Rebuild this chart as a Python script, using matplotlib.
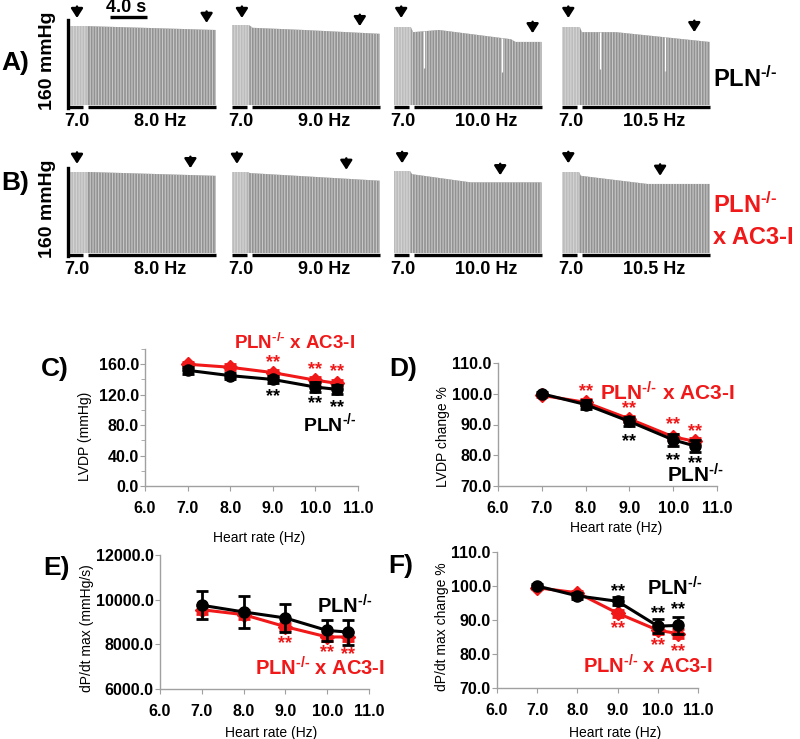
import numpy as np
import matplotlib
matplotlib.use('Agg')
import matplotlib.pyplot as plt
from matplotlib.ticker import MultipleLocator, FormatStrFormatter

plt.rcParams['font.family'] = ['Liberation Sans', 'DejaVu Sans']
plt.rcParams['font.weight'] = 'bold'
plt.rcParams['mathtext.fontset'] = 'custom'
plt.rcParams['mathtext.rm'] = 'Liberation Sans:bold'
plt.rcParams['mathtext.bf'] = 'Liberation Sans:bold'
plt.rcParams['mathtext.default'] = 'rm'
plt.rcParams['hatch.linewidth'] = 0.8

# ---- pressure traces (A = PLN-/-, B = PLN-/- x AC3-I), time in s, top of trace in mmHg
paceLabels = ['8.0 Hz', '9.0 Hz', '10.0 Hz', '10.5 Hz']
aTime = [[0, 2.2, 2.3, 16.4], [0, 1.9, 2.3, 8.0, 16.4],
         [0, 1.9, 2.1, 5.0, 13.0, 13.5, 16.4], [0, 2.0, 2.2, 6.0, 16.4]]
aTop = [[145, 145, 145, 138], [147, 147, 142, 138, 131],
        [143, 143, 134, 138, 121, 116, 116], [143, 143, 134, 134, 116]]
bTime = [[0, 2.2, 2.3, 16.4], [0, 1.7, 2.0, 16.4],
         [0, 1.8, 2.0, 8.5, 16.4], [0, 1.9, 2.1, 9.5, 16.4]]
bTop = [[149, 149, 149, 142], [149, 149, 147, 133],
        [151, 151, 145, 130, 130], [149, 149, 142, 127, 127]]
aArrowT = [[1.0, 15.4], [1.1, 14.2], [0.8, 15.4], [0.7, 14.7]]
aArrowY = [[160, 151], [160, 145], [160, 132], [160, 134]]
bArrowT = [[1.0, 13.6], [0.55, 12.7], [0.9, 11.8], [0.7, 10.9]]
bArrowY = [[164, 156], [164, 153], [165, 143], [165, 142]]
aGaps = [[], [], [3.3, 12.0], [4.2, 11.4]]
bGaps = [[], [], [], []]

# ---- summary data
heartRate = [7.0, 8.0, 9.0, 10.0, 10.5]
lvdpPln = [152, 145, 140, 130, 127]
lvdpPlnErr = [5, 4, 5, 6, 6]
lvdpAc3 = [160, 156, 149, 139, 135]
lvdpAc3Err = [3, 4, 4, 4, 4]
lvdpPctPln = [100.0, 96.5, 91.0, 85.0, 83.0]
lvdpPctPlnErr = [0.5, 1.5, 1.5, 2.0, 2.0]
lvdpPctAc3 = [99.5, 97.2, 91.8, 86.0, 84.5]
lvdpPctAc3Err = [0.5, 1.0, 1.0, 1.0, 1.0]
dpdtPln = [9750, 9450, 9180, 8620, 8550]
dpdtPlnErr = [620, 730, 620, 490, 560]
dpdtAc3 = [9550, 9330, 8790, 8330, 8330]
dpdtAc3Err = [200, 200, 150, 200, 200]
dpdtPctPln = [100.0, 97.1, 95.5, 88.2, 88.4]
dpdtPctPlnErr = [0.5, 0.8, 1.2, 2.0, 2.6]
dpdtPctAc3 = [99.5, 98.0, 92.0, 87.0, 86.0]
dpdtPctAc3Err = [0.5, 0.5, 1.0, 1.2, 1.3]

W, H = 800, 739
RED = '#f01818'
GREY = '#a0a0a0'
SEC_PER_PX = 4.0 / 36
MMHG_PER_PX = 160 / 87
TRACE_W = 148
traceLeft = [68, 232, 394, 562]
KO = r'PLN$^{\text{-/-}}$'


def box(l, t, r, b):
    return [l / W, 1 - b / H, (r - l) / W, (b - t) / H]


def figText(x, y, s, **kw):
    fig.text(x / W, 1 - y / H, s, **kw)


fig = plt.figure(figsize=(8, 7.39), dpi=100)

rows = [(105, aTime, aTop, aArrowT, aArrowY, aGaps), (253, bTime, bTop, bArrowT, bArrowY, bGaps)]
for baseY, times, tops, arrT, arrY, gaps in rows:
    for i in range(4):
        left = traceLeft[i]
        ax = fig.add_axes(box(left, baseY - 100, left + TRACE_W, baseY))
        ax.set_xlim(0, TRACE_W * SEC_PER_PX)
        ax.set_ylim(0, 100 * MMHG_PER_PX)
        ax.axis('off')
        t, v = times[i], tops[i]
        ax.fill_between(t[:2], 0, v[:2], facecolor='#bcbcbc', edgecolor='#d4d4d4',
                        hatch='||||||', linewidth=0)
        ax.fill_between(t[1:], 0, v[1:], facecolor='#929292', edgecolor='#c8c8c8',
                        hatch='||||||', linewidth=0)
        for g in gaps[i]:
            top = np.interp(g, t, v)
            ax.vlines(g, 0.5 * top, top, color='white', lw=0.9)
        for at, ay in zip(arrT[i], arrY[i]):
            ax.annotate('', xy=(at, ay), xytext=(at, ay + 21),
                        arrowprops=dict(arrowstyle='-|>,head_length=0.5,head_width=0.32',
                                        color='black', lw=1.8, shrinkA=0, shrinkB=0,
                                        mutation_scale=11),
                        annotation_clip=False)
        ax.plot([0, 1.7], [-4, -4], color='black', lw=2.4, solid_capstyle='butt', clip_on=False)
        ax.plot([2.2, TRACE_W * SEC_PER_PX], [-4, -4], color='black', lw=2.4,
                solid_capstyle='butt', clip_on=False)
        ax.text(1.0, -31, '7.0', fontsize=13, ha='center', va='center')
        ax.text(10.2, -31, paceLabels[i], fontsize=13, ha='center', va='center')
        if i == 0:
            ax.plot([0, 0], [-5, 156], color='black', lw=2.4, clip_on=False)
            figText(48, baseY - 44, '160 mmHg', fontsize=14, rotation=90, ha='center', va='center')
            if baseY == 105:
                ax.plot([4.65, 8.75], [162, 162], color='black', lw=2.4,
                        solid_capstyle='butt', clip_on=False)
                figText(126, 8, '4.0 s', fontsize=13, ha='center', va='center')

figText(15, 63, 'A)', fontsize=19, ha='center', va='center')
figText(15, 183, 'B)', fontsize=19, ha='center', va='center')
figText(713, 79, KO, fontsize=17, ha='left', va='center')
figText(713, 205, KO, fontsize=17, ha='left', va='center', color=RED)
figText(713, 237, 'x AC3-I', fontsize=17, ha='left', va='center', color=RED)


def panel(rect, ylim, major, minor, ylabel, ylabPos, xlabPos):
    ax = fig.add_axes(box(*rect))
    ax.set_xlim(6, 11)
    ax.set_ylim(*ylim)
    ax.xaxis.set_major_locator(MultipleLocator(1))
    ax.xaxis.set_major_formatter(FormatStrFormatter('%.1f'))
    ax.yaxis.set_major_locator(MultipleLocator(major))
    ax.yaxis.set_major_formatter(FormatStrFormatter('%.1f'))
    if minor:
        ax.yaxis.set_minor_locator(MultipleLocator(minor))
    for s in ['top', 'right']:
        ax.spines[s].set_visible(False)
    for s in ['left', 'bottom']:
        ax.spines[s].set_color(GREY)
        ax.spines[s].set_linewidth(1)
    ax.tick_params(which='both', direction='out', color=GREY, labelsize=11.5)
    ax.tick_params(which='major', length=3.5)
    ax.tick_params(which='minor', length=3)
    ax.tick_params(axis='x', pad=7)
    ax.tick_params(axis='y', pad=1)
    ax.set_ylabel(ylabel, fontsize=10)
    ax.yaxis.set_label_coords(*ylabPos)
    ax.set_xlabel('Heart rate (Hz)', fontsize=10)
    ax.xaxis.set_label_coords(*xlabPos)
    return ax


def series(ax, y, e, color, marker, ms, z):
    ax.errorbar(heartRate, y, yerr=e, color=color, marker=marker, ms=ms, lw=2.2,
                elinewidth=2, capsize=4.5, capthick=2, zorder=z, clip_on=False)


def stars(ax, xs, ys, color):
    for x, y in zip(xs, ys):
        ax.text(x, y, '**', color=color, fontsize=13, ha='center', va='center')


# C
axC = panel((145, 349, 358, 486), (0, 180), 40, 20, 'LVDP (mmHg)', (-0.248, 0.365), (0.535, -0.33))
series(axC, lvdpAc3, lvdpAc3Err, RED, 'D', 7, 3)
series(axC, lvdpPln, lvdpPlnErr, 'black', 'o', 8, 4)
stars(axC, [9.0, 10.0, 10.5], [162, 153, 150], RED)
stars(axC, [9.0, 10.0, 10.5], [118, 108, 103], 'black')
axC.text(9.7, 83, KO, fontsize=14, ha='left', va='center')
axC.text(8.1, 188, KO + ' x AC3-I', fontsize=13.5, ha='left', va='center', color=RED)

# D
axD = panel((498, 363, 717, 486), (70, 110), 10, None, 'LVDP change %', (-0.218, 0.40), (0.539, -0.283))
series(axD, lvdpPctAc3, lvdpPctAc3Err, RED, 'D', 7, 3)
series(axD, lvdpPctPln, lvdpPctPlnErr, 'black', 'o', 8, 4)
stars(axD, [8.0, 9.0, 10.0, 10.5], [100.8, 95.3, 90.1, 87.8], RED)
stars(axD, [9.0, 10.0, 10.5], [84.6, 78.1, 77.4], 'black')
axD.text(9.86, 73.6, KO, fontsize=15, ha='left', va='center')
axD.text(8.33, 100.2, KO + ' x AC3-I', fontsize=15, ha='left', va='center', color=RED)

# E
axE = panel((160, 555, 369, 689), (6000, 12000), 2000, None, 'dP/dt max (mmHg/s)', (-0.315, 0.455), (0.531, -0.275))
series(axE, dpdtAc3, dpdtAc3Err, RED, 'D', 7, 3)
series(axE, dpdtPln, dpdtPlnErr, 'black', 'o', 8, 4)
stars(axE, [9.0, 10.0, 10.5], [8050, 7610, 7560], RED)
axE.text(9.76, 9720, KO, fontsize=14.5, ha='left', va='center')
axE.text(8.27, 6940, KO + ' x AC3-I', fontsize=14.5, ha='left', va='center', color=RED)

# F
axF = panel((497, 552, 698, 688), (70, 110), 10, None, 'dP/dt max change %', (-0.24, 0.449), (0.59, -0.28))
series(axF, dpdtPctAc3, dpdtPctAc3Err, RED, 'D', 7, 3)
series(axF, dpdtPctPln, dpdtPctPlnErr, 'black', 'o', 8, 4)
stars(axF, [9.0, 10.0, 10.5], [98.4, 92.0, 93.1], 'black')
stars(axF, [9.0, 10.0, 10.5], [87.5, 82.5, 80.8], RED)
axF.text(9.73, 99.4, KO, fontsize=14.5, ha='left', va='center')
axF.text(8.14, 76.5, KO + ' x AC3-I', fontsize=14.5, ha='left', va='center', color=RED)

figText(55, 369, 'C)', fontsize=19, ha='center', va='center')
figText(403, 369, 'D)', fontsize=19, ha='center', va='center')
figText(56, 568, 'E)', fontsize=19, ha='center', va='center')
figText(401, 566, 'F)', fontsize=19, ha='center', va='center')

fig.savefig('out.png', dpi=100)
